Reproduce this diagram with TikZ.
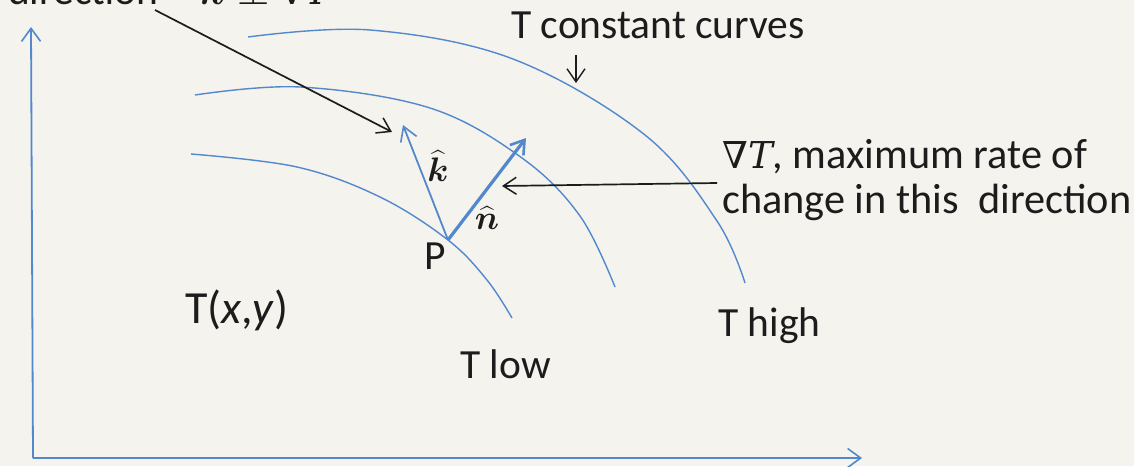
\RequirePackage{fix-cm}
\documentclass[tikz,border=0pt]{standalone}
\usepackage{amsmath,bm}
\usepackage{fontspec}
\setmainfont{Carlito}
\newfontfamily\gradfont{DejaVu Serif}
\usetikzlibrary{arrows.meta}
\definecolor{bg}{RGB}{244,243,238}
\definecolor{cblue}{RGB}{84,136,204}
\definecolor{ink}{RGB}{28,28,28}
\begin{document}
\begin{tikzpicture}[x=1pt,y=-1pt,
  txt/.style={inner sep=0pt, text=ink, font=\fontsize{41.5}{48}\selectfont},
  gradtxt/.style={inner sep=0pt, text=ink, font=\fontsize{42.3}{48}\selectfont},
  bigtxt/.style={inner sep=0pt, text=ink, font=\fontsize{46}{54}\selectfont},
  lbl/.style={inner sep=0pt, text=ink, font=\fontsize{34}{40}\selectfont},
  curve/.style={draw=cblue, line width=1.4pt},
  axis/.style={draw=cblue, line width=1.8pt, -{Straight Barb[length=13pt,width=19pt,line width=1.6pt]}},
  kvec/.style={draw=cblue, line width=1.8pt, -{Straight Barb[length=14pt,width=17pt,line width=1.6pt]}},
  nvec/.style={draw=cblue, line width=3.2pt, -{Straight Barb[length=13pt,width=17pt,line width=2.6pt]}},
  pointer/.style={draw=ink, line width=1.7pt, -{Straight Barb[length=13pt,width=17pt,line width=1.5pt]}},
  small pointer/.style={draw=ink, line width=1.5pt, -{Straight Barb[length=13pt,width=18pt,line width=1.4pt]}}
]
\path[use as bounding box, fill=bg] (0,0) rectangle (1134,466);

% axes
\coordinate (O) at (33,458);
\coordinate (ytip) at (31,27);
\coordinate (xtip) at (862,458);
\draw[axis] (O) -- (ytip);
\draw[axis] (O) -- (xtip);

% T constant curves
\draw[curve] plot[smooth, tension=0.6] coordinates {(248,37) (370,30) (513,59) (645,135) (717,221) (745,283)};
\draw[curve] plot[smooth, tension=0.6] coordinates {(195,95) (300,87) (430,108) (522,158) (580,216) (615,287)};
\draw[curve] plot[smooth, tension=0.6] coordinates {(191,154) (297,167) (380,197) (448,240) (487,280) (512,318)};

% vectors at P
\coordinate (Pp) at (448,240);
\coordinate (ktip) at (403,125);
\coordinate (ntip) at (526,138);
\draw[kvec] (Pp) -- (ktip);
\draw[nvec] (Pp) -- (ntip);

% labels
\node[txt, anchor=base west] (P) at (424,269) {P};
\node[lbl] (klbl) at (438,166) {$\widehat{\bm{k}}$};
\node[lbl] (nlbl) at (487,218) {$\widehat{\bm{n}}$};
\node[bigtxt, anchor=base west] (txy) at (185,323) {T(\textit{x},\textit{y})};
\node[txt, anchor=base west] (tlow) at (460,378) {T low};
\node[txt, anchor=base west] (thigh) at (718,336) {T high};
\node[txt, anchor=base west] (tcc) at (511,38) {T constant curves};
\node[gradtxt, anchor=base west] (grad1) at (722,168) {{\gradfont\itshape\fontsize{37}{44}\selectfont ∇T}, maximum rate of};
\node[gradtxt, anchor=base west] (grad2) at (722,213) {change in this\ \ direction};

% cropped text at the top
\node[txt, anchor=base west] (dirtxt) at (8,4) {direction};
\node[txt, anchor=base west] (kperp) at (200,4) {$\widehat{\bm{k}}\perp$ {\gradfont\itshape\fontsize{37}{44}\selectfont ∇T}};

% pointers
\coordinate (dirstart) at (155,10);
\coordinate (kpoint) at (392,132);
\draw[pointer] (dirstart) -- (kpoint);
\coordinate (gradstart) at (717,183);
\coordinate (npoint) at (502,186);
\draw[pointer] (gradstart) -- (npoint);
\coordinate (tccstart) at (576,55);
\coordinate (tccpoint) at (576,83);
\draw[small pointer] (tccstart) -- (tccpoint);
\end{tikzpicture}
\end{document}
